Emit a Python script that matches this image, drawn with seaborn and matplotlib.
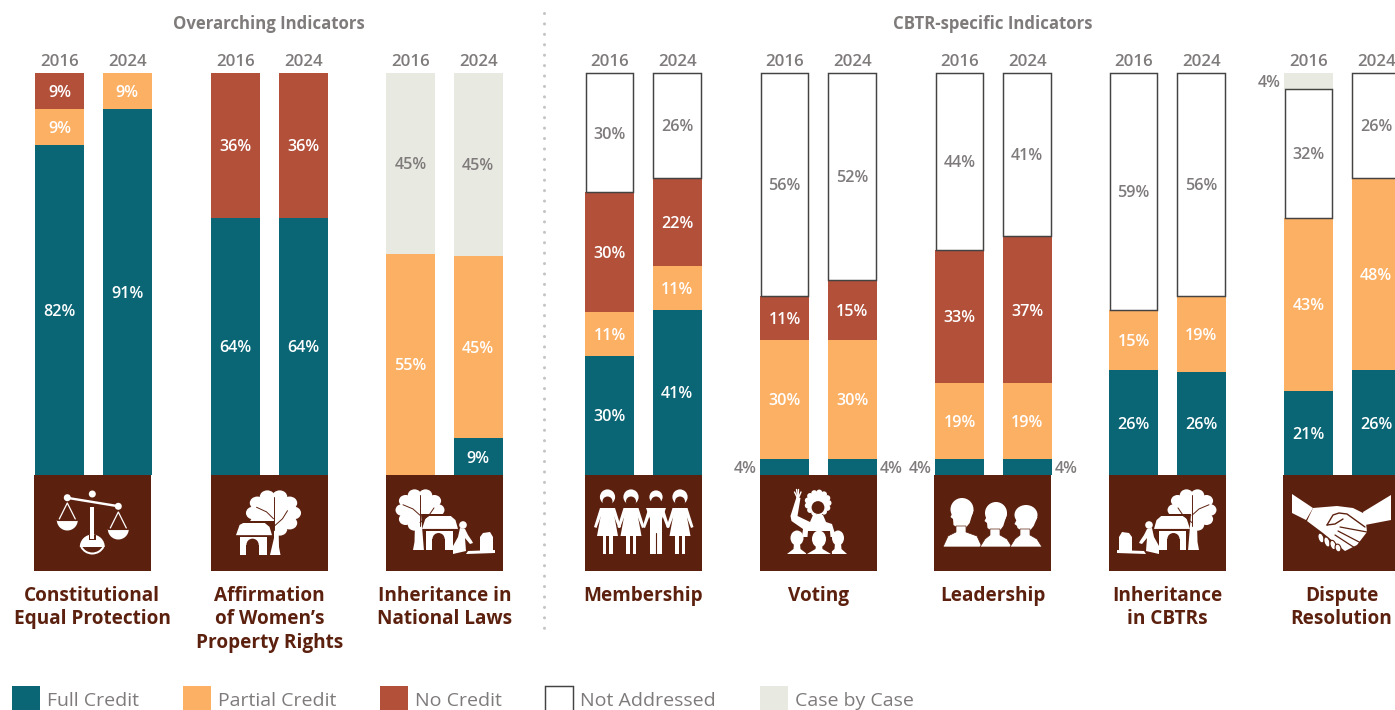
import numpy as np
import pandas as pd
import matplotlib
matplotlib.use("Agg")
import matplotlib.pyplot as plt
from matplotlib.lines import Line2D
from matplotlib.patches import Circle, Ellipse, Polygon, Rectangle, Wedge
from matplotlib.transforms import Affine2D
import seaborn as sns

W, H = 1395, 710

years = ["2016", "2024"]
indicators = [
    "Constitutional\nEqual Protection",
    "Affirmation\nof Women’s\nProperty Rights",
    "Inheritance in\nNational Laws",
    "Membership",
    "Voting",
    "Leadership",
    "Inheritance\nin CBTRs",
    "Dispute\nResolution",
]
# Percent of countries or frameworks per indicator, as [2016, 2024]
full_credit = [[82, 91], [64, 64], [0, 9], [30, 41], [4, 4], [4, 4], [26, 26], [21, 26]]
partial_credit = [[9, 9], [0, 0], [55, 45], [11, 11], [30, 30], [19, 19], [15, 19], [43, 48]]
no_credit = [[9, 0], [36, 36], [0, 0], [30, 22], [11, 15], [33, 37], [0, 0], [0, 0]]
not_addressed = [[0, 0], [0, 0], [0, 0], [30, 26], [56, 52], [44, 41], [59, 56], [32, 26]]
case_by_case = [[0, 0], [0, 0], [45, 45], [0, 0], [0, 0], [0, 0], [0, 0], [4, 0]]

level_names = ["Full Credit", "Partial Credit", "No Credit", "Not Addressed", "Case by Case"]
level_values = [full_credit, partial_credit, no_credit, not_addressed, case_by_case]

TEAL = "#0a6675"
ORANGE = "#fcb064"
RED = "#b2503a"
WHITE = "#ffffff"
PALE = "#e8e9e1"
BROWN = "#5c200e"
GREY = "#7f7b7b"
OUTLINE = "#454242"
level_colors = [TEAL, ORANGE, RED, WHITE, PALE]
label_colors = [WHITE, WHITE, WHITE, GREY, GREY]

bar_left = [35, 211, 386, 585, 760, 935, 1109, 1284]
icon_left = [34, 211, 386, 585, 760, 934, 1109, 1283]
PANEL_W = 117
PITCH = 67.6
BAR_TOP, BAR_BOTTOM = 73, 475
ICON_BOTTOM = 571

sns.set_theme(style="white")
plt.rcParams["font.family"] = ["Open Sans", "DejaVu Sans"]

fig = plt.figure(figsize=(W / 100, H / 100), dpi=100, facecolor="white")


def box(x0, y0, x1, y1):
    """Axes rectangle from pixel corners, y counted from the top."""
    return [x0 / W, 1 - y1 / H, (x1 - x0) / W, (y1 - y0) / H]


def fig_text(x, y, s, **kw):
    fig.text(x / W, 1 - y / H, s, **kw)


def draw_stacks(ax, idx):
    totals = [sum(level_values[k][idx][j] for k in range(5)) for j in range(2)]
    half = 49 / PITCH / 2
    cum = [0.0, 0.0]
    for k, name in enumerate(level_names):
        vals = level_values[k][idx]
        shares = [v / t * 100 for v, t in zip(vals, totals)]
        rows = pd.DataFrame({"year": years, "share": shares, "base": cum, "raw": vals})
        rows = rows[rows["raw"] > 0]
        if not rows.empty:
            outlined = name == "Not Addressed"
            sns.barplot(data=rows, x="year", y="share", order=years, ax=ax, color=level_colors[k],
                        saturation=1, width=2 * half - (0.02 if outlined else 0), errorbar=None,
                        bottom=rows["base"].to_numpy(),
                        edgecolor=OUTLINE if outlined else "none",
                        linewidth=1.05 if outlined else 0, clip_on=False, zorder=3 if outlined else 2)
            for _, r in rows.iterrows():
                j = years.index(r["year"])
                yc = r["base"] + r["share"] / 2
                if r["raw"] <= 4:
                    side = -1 if j == 0 else 1
                    ax.annotate(f"{r['raw']}%", (j + side * half, yc), xytext=(side * 2.2, -1.3),
                                textcoords="offset points", ha="right" if side < 0 else "left",
                                va="center", fontsize=11.6, color=GREY, fontweight="semibold",
                                annotation_clip=False)
                else:
                    ax.annotate(f"{r['raw']}%", (j, yc), xytext=(0, -1.3), textcoords="offset points",
                                ha="center", va="center", fontsize=11.6, color=label_colors[k],
                                fontweight="semibold", zorder=5)
        cum = [c + s for c, s in zip(cum, shares)]
    ax.set_xlim(-half, -half + PANEL_W / PITCH)
    ax.set_ylim(0, 100)
    ax.set(xlabel=None, ylabel=None, yticks=[])
    ax.xaxis.tick_top()
    ax.tick_params(axis="x", length=0, pad=1.9, labelsize=12.2, labelcolor=GREY)
    for t in ax.get_xticklabels():
        t.set_fontweight("semibold")
    sns.despine(ax=ax, left=True, bottom=True)
    ax.spines["top"].set_visible(False)
    ax.patch.set_visible(False)


# --- pictograms, drawn in a 117 x 96 local frame with y pointing down ---
def shape(ax, patch):
    ax.add_patch(patch)
    return patch


def poly(ax, pts, color=WHITE, edge="none", lw=0):
    return shape(ax, Polygon(pts, closed=True, facecolor=color, edgecolor=edge, linewidth=lw))


def circ(ax, x, y, r, color=WHITE):
    return shape(ax, Circle((x, y), r, facecolor=color, edgecolor="none"))


def oval(ax, x, y, w, h, color=WHITE, edge="none", lw=0):
    return shape(ax, Ellipse((x, y), w, h, facecolor=color, edgecolor=edge, linewidth=lw))


def stroke(ax, xs, ys, lw=1.0, color=WHITE):
    ax.plot(xs, ys, color=color, lw=lw, solid_capstyle="round")


def tree(ax, cx, cy, rx, ry, trunk_top, trunk_bottom, flip=1):
    for a in np.linspace(0, 2 * np.pi, 11)[:-1]:
        oval(ax, cx + rx * 0.74 * np.cos(a), cy + ry * 0.74 * np.sin(a), rx * 0.56, ry * 0.56)
    oval(ax, cx, cy, rx * 1.6, ry * 1.6)
    poly(ax, [(cx - 5, trunk_top), (cx + 5, trunk_top), (cx + 5.5, trunk_bottom - 8),
              (cx + 7, trunk_bottom), (cx - 7, trunk_bottom), (cx - 5.5, trunk_bottom - 8)])
    stroke(ax, [cx, cx], [cy - ry * 0.7, cy + ry * 0.75], 0.7, BROWN)
    stroke(ax, [cx, cx + flip * 9, cx + flip * 14], [cy + ry * 0.6, cy + ry * 0.25, cy - ry * 0.1], 0.7, BROWN)
    stroke(ax, [cx - flip * 17, cx - flip * 7, cx], [cy - ry * 0.25, cy - ry * 0.05, cy + ry * 0.25], 0.7, BROWN)


def hut(ax, x, y, w, h):
    """Small house; (x, y) is the top-left of the roof, w x h its full size."""
    poly(ax, [(x, y + h * 0.38), (x + w * 0.1, y + h * 0.06), (x + w * 0.2, y), (x + w * 0.8, y),
              (x + w * 0.93, y + h * 0.12), (x + w, y + h * 0.38)])
    poly(ax, [(x + w * 0.11, y + h * 0.44), (x + w * 0.86, y + h * 0.44), (x + w * 0.86, y + h),
              (x + w * 0.11, y + h)])
    shape(ax, Rectangle((x + w * 0.29, y + h * 0.68), w * 0.34, h * 0.32, facecolor=BROWN, edgecolor="none"))
    circ(ax, x + w * 0.46, y + h * 0.68, w * 0.17, BROWN)


def kneeling_at_grave(ax, px):
    circ(ax, px + 0, 50, 3.8)
    poly(ax, [(px - 3, 53), (px + 2, 54), (px + 5, 60), (px + 9, 66), (px + 10, 68), (px + 7, 69),
              (px + 2, 63), (px + 3, 76), (px - 10, 79), (px - 10, 71), (px - 5, 62)])
    poly(ax, [(px + 5, 76), (px + 32, 75), (px + 32, 78), (px + 3, 79)])
    poly(ax, [(px + 17, 62), (px + 20, 58), (px + 27, 57), (px + 30, 62), (px + 30, 78), (px + 17, 78)])


def icon_scales(ax):
    circ(ax, 58.3, 19, 3.5)
    poly(ax, [(33, 21.6), (84.5, 30), (84, 32.4), (33, 24)])
    circ(ax, 33.3, 22.7, 3.5)
    circ(ax, 84.3, 31.3, 3.5)
    shape(ax, Wedge((58.3, 72), 12.5, 180, 360, facecolor=WHITE, edgecolor="none"))
    poly(ax, [(54.8, 60), (61.8, 60), (61.8, 65), (54.8, 65)], color=BROWN)
    poly(ax, [(56.3, 32), (60.3, 32), (60.3, 64), (56.3, 64)])
    shape(ax, Wedge((58.3, 66), 13.5, 28, 152, width=2, facecolor=WHITE, edgecolor="none"))
    for cx, cy in [(33.3, 28), (84.3, 37)]:
        stroke(ax, [cx - 8, cx, cx + 8], [cy + 16, cy, cy + 16], 0.9)
        shape(ax, Wedge((cx, cy + 17), 10.5, 0, 180, facecolor=WHITE, edgecolor="none"))
        stroke(ax, [cx - 10, cx + 10], [cy + 16.5, cy + 16.5], 0.8, BROWN)


def icon_home(ax):
    tree(ax, 62.5, 38, 27, 23, 50, 80)
    poly(ax, [(23, 46), (63, 46), (63, 63), (59, 80), (23, 80)], color=BROWN)
    hut(ax, 25, 48, 36, 32)


def icon_inherit(ax):
    tree(ax, 34, 35, 24, 21, 48, 75)
    poly(ax, [(35, 39), (74, 39), (74, 76), (38, 76)], color=BROWN)
    hut(ax, 36, 41, 36, 34)
    kneeling_at_grave(ax, 77)


def icon_inherit_flipped(ax):
    # same scene as icon_inherit, turned to face the other way
    sub = Affine2D().scale(-1, 1).translate(117, 0) + ax.transData
    before = set(ax.patches) | set(ax.lines)
    icon_inherit(ax)
    for art in list(ax.patches) + list(ax.lines):
        if art not in before:
            art.set_transform(sub)


def figure_person(ax, x, dress=True):
    circ(ax, x, 22, 7.6 if dress else 6.6)
    circ(ax, x, 26.5, 5, BROWN)
    if dress:
        poly(ax, [(x - 6, 33), (x + 6, 33), (x + 7, 42), (x + 10.5, 61), (x - 10.5, 61), (x - 7, 42)])
        poly(ax, [(x - 5, 61), (x - 1.5, 61), (x - 1.5, 79), (x - 5, 79)])
        poly(ax, [(x + 1.5, 61), (x + 5, 61), (x + 5, 79), (x + 1.5, 79)])
    else:
        poly(ax, [(x - 10, 33), (x + 10, 33), (x + 6, 44), (x + 6, 79), (x - 6, 79), (x - 6, 44)])
        stroke(ax, [x, x], [58, 80], 0.8, BROWN)
    for side in (-1, 1):
        poly(ax, [(x + side * 4, 33), (x + side * 7.5, 33), (x + side * 13.5, 52), (x + side * 11, 53),
                  (x + side * 6, 40)])


def icon_members(ax):
    figure_person(ax, 22.5)
    figure_person(ax, 46)
    figure_person(ax, 71, dress=False)
    figure_person(ax, 95)


def bust(ax, x, head_y, w, h, base_w, base_y=79):
    oval(ax, x, head_y, w, h)
    poly(ax, [(x - 3, head_y + h * 0.35), (x + 3, head_y + h * 0.35), (x + 3.5, base_y - 5),
              (x + base_w, base_y), (x - base_w, base_y), (x - 3.5, base_y - 5)])


def icon_voting(ax):
    for a in np.linspace(0, 2 * np.pi, 14)[:-1]:
        circ(ax, 58 + 10.5 * np.cos(a), 28 + 10.5 * np.sin(a), 3)
    circ(ax, 58, 28, 10.5)
    circ(ax, 58, 32.5, 6.4, BROWN)
    poly(ax, [(36.5, 22), (40.5, 23), (37.5, 41), (50, 47), (53, 40), (63, 40), (66, 47), (72, 49),
              (76, 62), (42, 62), (43, 54), (31.5, 46), (30.5, 41)])
    for top_x, top_y in [(34.5, 17), (36.5, 14.5), (38.5, 14.5), (41, 17)]:
        stroke(ax, [38, top_x], [24, top_y], 1.0)
    bust(ax, 37, 63, 13, 15, 10)
    bust(ax, 78, 63, 12, 15, 9)
    poly(ax, [(48, 56), (70, 56), (72, 79), (46, 79)], color=BROWN)
    bust(ax, 59, 64, 14, 17, 12)


def profile(ax, cx, top, chin, hair_w, base_l, base_r, base_y=72):
    # hair mass, face wedge, then neck and shoulders of a head seen from the side
    oval(ax, cx + 2, top + (chin - top) * 0.38, hair_w, (chin - top) * 0.76)
    poly(ax, [(cx + 2, top + 12), (cx + hair_w * 0.5 + 2, top + 12), (cx + hair_w * 0.42, chin - 5),
              (cx + 4, chin + 2)])
    poly(ax, [(cx - 6, top + 8), (cx - 7, top + 14), (cx - 9.5, top + 19), (cx - 7, top + 21),
              (cx - 6.5, chin - 3), (cx - 2, chin), (cx + 5, chin), (cx + 6, top + 8)])
    poly(ax, [(cx - 4, chin - 2), (cx + 6, chin - 2), (cx + 6, chin + 4), (base_r - 5, chin + 8),
              (base_r, base_y), (base_l, base_y), (base_l + 5, chin + 8), (cx - 4, chin + 4)],
         edge=BROWN, lw=0.5)


def icon_leaders(ax):
    profile(ax, 26, 23, 53, 23, 9, 48)
    profile(ax, 60, 27, 56, 22, 46, 78)
    profile(ax, 90, 30, 56, 23, 76, 108)


def icon_handshake(ax):
    poly(ax, [(9, 19), (30, 33), (23, 45), (9, 38)])
    poly(ax, [(108, 20), (108, 45), (82, 50), (80, 37)])
    poly(ax, [(30, 33), (54, 31), (70, 33), (82, 39), (84, 57), (74, 70), (62, 76), (40, 58), (24, 46)])
    stroke(ax, [44, 50, 56, 64, 82], [50, 40, 38, 39, 52], 1.0, BROWN)
    stroke(ax, [44, 52, 60], [50, 49, 44], 1.0, BROWN)
    for x0, y0, x1, y1 in [(57, 52, 84, 57), (55, 56, 78, 68), (52, 60, 72, 73)]:
        stroke(ax, [x0, x1], [y0, y1], 0.9, BROWN)
    for x, y, r in [(38, 63, 4.8), (44, 67, 5), (50, 70, 4.6), (55, 73, 3.8)]:
        shape(ax, Ellipse((x, y), 5.6, r * 2.1, angle=-18, facecolor=WHITE, edgecolor=BROWN, linewidth=0.8))


icon_painters = [icon_scales, icon_home, icon_inherit, icon_members, icon_voting,
                 icon_leaders, icon_inherit_flipped, icon_handshake]

for i, name in enumerate(indicators):
    ax = fig.add_axes(box(bar_left[i], BAR_TOP, bar_left[i] + PANEL_W, BAR_BOTTOM))
    draw_stacks(ax, i)

    x0 = icon_left[i]
    iax = fig.add_axes(box(x0, BAR_BOTTOM, x0 + PANEL_W, ICON_BOTTOM), facecolor=BROWN)
    iax.set_xlim(0, PANEL_W)
    iax.set_ylim(96, 0)
    iax.set_xticks([])
    iax.set_yticks([])
    for s in iax.spines.values():
        s.set_visible(False)
    icon_painters[i](iax)

    for ln, line in enumerate(name.split("\n")):
        fig_text(x0 + PANEL_W / 2 + (-0.5 if i == 0 else 0), 595.7 + ln * 23.6, line, ha="center",
                 va="center", fontsize=13.7, fontweight="bold", color=BROWN)

# Section headings and the divider between them
fig_text(269, 23.7, "Overarching Indicators", ha="center", va="center", fontsize=12.1,
         fontweight="bold", color=GREY)
fig_text(993, 23.7, "CBTR-specific Indicators", ha="center", va="center", fontsize=12.1,
         fontweight="bold", color=GREY)
fig.add_artist(Line2D([544 / W, 544 / W], [1 - 12.5 / H, 1 - 634 / H], transform=fig.transFigure,
                      color="#c4c4c4", lw=2.2, linestyle=(0, (0.01, 3.4)), dash_capstyle="round"))

# Legend along the bottom edge
handles = [Rectangle((0, 0), 1, 1, facecolor=c, edgecolor=OUTLINE if c == WHITE else "none",
                     linewidth=1.05 if c == WHITE else 0) for c in level_colors]
leg = fig.legend(handles, level_names, loc="center left", bbox_to_anchor=(12 / W, 1 - 700 / H),
                 ncol=5, frameon=False, fontsize=14.0, labelcolor=GREY, handlelength=1.43,
                 handleheight=1.9, handletextpad=0.36, columnspacing=2.26, borderpad=0, borderaxespad=0)

fig.savefig("out.png", dpi=100)
